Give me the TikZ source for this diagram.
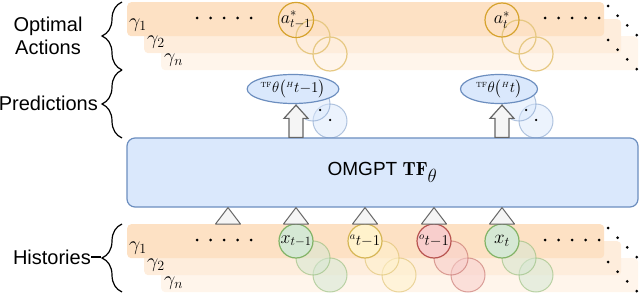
\RequirePackage{fix-cm}
\documentclass[tikz,border=0pt]{standalone}
\usepackage{amsmath,amssymb}
\usepackage{fontspec}
\newfontfamily\labelfont{Liberation Sans}
\usepackage{tikz}
\usetikzlibrary{positioning,shapes.geometric,calc,decorations.pathreplacing}
\definecolor{bandA}{HTML}{FDE1C4}
\definecolor{bandB}{HTML}{FEEDDC}
\definecolor{bandC}{HTML}{FFF5EB}
\definecolor{actline}{HTML}{D6A32E}
\definecolor{xfill}{HTML}{D5E8D4}
\definecolor{xline}{HTML}{82B366}
\definecolor{afill}{HTML}{FFF2CC}
\definecolor{aline}{HTML}{D6B656}
\definecolor{ofill}{HTML}{F8CECC}
\definecolor{oline}{HTML}{B85450}
\definecolor{bfill}{HTML}{DAE8FC}
\definecolor{bline}{HTML}{6C8EBF}
\definecolor{trifill}{HTML}{F5F5F5}
\definecolor{triline}{HTML}{666666}

\begin{document}
\begin{tikzpicture}[x=1pt, y=-1pt,
    band/.style={rounded corners=4pt, minimum width=477pt, minimum height=34pt,
                 inner sep=0pt, anchor=north west},
    gam/.style={anchor=base west, inner sep=0pt, font=\fontsize{20}{20}\selectfont},
    dot/.style={circle, fill=black, inner sep=0pt, minimum size=3pt},
    act/.style={circle, draw=actline, line width=1.2pt, minimum size=34pt, inner sep=0pt,
                font=\fontsize{18}{18}\selectfont},
    actshadow/.style={act, draw=actline!60},
    hist/.style={circle, line width=1.2pt, minimum size=34pt, inner sep=0pt},
    histshadow/.style={hist, line width=1pt, fill opacity=0.55, draw opacity=0.5},
    xcol/.style={fill=xfill, draw=xline},
    acol/.style={fill=afill, draw=aline},
    ocol/.style={fill=ofill, draw=oline},
    pred/.style={ellipse, draw=bline, fill=bfill, line width=1.2pt, minimum width=77pt,
                 minimum height=29pt, inner sep=0pt, font=\fontsize{15}{15}\selectfont},
    predshadow/.style={circle, draw=bline, fill=bfill, fill opacity=0.5, draw opacity=0.5,
                 line width=1pt, minimum size=34pt, inner sep=0pt},
    mainbox/.style={draw=bline, fill=bfill, line width=1.2pt, rounded corners=8pt,
                 minimum width=511pt, minimum height=69pt,
                 font=\labelfont\fontsize{19}{19}\selectfont},
    tri/.style={draw=triline, fill=trifill, line width=1pt, line join=round},
    blockarr/.style={draw=triline, fill=trifill, line width=1.2pt},
    brc/.style={decorate, decoration={brace, amplitude=20pt}, line width=1.2pt},
    side/.style={font=\labelfont\fontsize{20}{23}\selectfont, align=center, inner sep=0pt},
]
\useasboundingbox (0,0) rectangle (640,294);

% optimal actions layers
\foreach \k/\col in {2/bandC, 1/bandB, 0/bandA}
    \node[band, fill=\col] (opt\k) at ({127+17*\k}, {2+17*\k}) {};
\node[gam] (og1) at (129,28) {$\gamma_1$};
\node[gam] (og2) at (147,45) {$\gamma_2$};
\node[gam] (ogn) at (164,63) {$\gamma_n$};
\foreach \i in {0,...,4} {
    \node[dot] (odl\i) at (197+13.5*\i, 18) {};
    \node[dot] (odr\i) at (545+13.5*\i, 18) {};
}
\foreach \i in {0,...,3} {
    \node[dot] (odd\i) at (608+9.6*\i, 6+9.7*\i) {};
    \node[dot] (ode\i) at (608+9.6*\i, 40+9.7*\i) {};
}
\foreach \nm/\cx/\lab in {as1/296/{a^*_{t-1}}, as2/502/{a^*_t}} {
    \node[actshadow] (\nm-c) at (\cx+34, 54) {};
    \node[actshadow] (\nm-b) at (\cx+17, 37) {};
    \node[act] (\nm) at (\cx, 20) {$\lab$};
}

% predictions
\foreach \nm/\cx/\lab in {pr1/296/{t{-}1}, pr2/502/{t}} {
    \node[predshadow] (\nm-c) at (\cx+34, 121) {};
    \node[predshadow] (\nm-b) at (\cx+17, 104) {};
    \node[dot, minimum size=2.5pt] (\nm-d1) at (\cx+24, 110) {};
    \node[dot, minimum size=2.5pt] (\nm-d2) at (\cx+34, 120) {};
    \node[pred] (\nm) at (\cx-3, 89)
        {${}^{\scriptscriptstyle\mathrm{TF}}\theta\bigl({}^{\scriptscriptstyle H}\lab\bigr)$};
}

% transformer
\node[mainbox] (main) at (382.5, 172.5) {OMGPT $\mathbf{TF}_{\textstyle\theta}$};

\foreach \nm in {pr1, pr2} {
    \coordinate (\nm-base) at ($(main.north -| \nm)+(3,0)$);
    \draw[blockarr] ($(\nm-base)+(-7,0)$) -- ++(0,-19) -- ++(-5,0)
        -- ($(\nm-base |- \nm.south)+(0,1)$) -- ($(\nm-base)+(12,-19)$)
        -- ++(-5,0) -- ++(0,19) -- cycle;
}

% histories layers
\foreach \k/\col in {2/bandC, 1/bandB, 0/bandA}
    \node[band, fill=\col] (his\k) at ({127+17*\k}, {224+17*\k}) {};
\node[gam] (hg1) at (129,250) {$\gamma_1$};
\node[gam] (hg2) at (147,267) {$\gamma_2$};
\node[gam] (hgn) at (164,285) {$\gamma_n$};
\foreach \i in {0,...,4} {
    \node[dot] (hdl\i) at (197+13.5*\i, 240) {};
    \node[dot] (hdr\i) at (545+13.5*\i, 240) {};
}
\foreach \i in {0,...,3} {
    \node[dot] (hdd\i) at (608+9.6*\i, 228+9.7*\i) {};
    \node[dot] (hde\i) at (608+9.6*\i, 262+9.7*\i) {};
}
\foreach \nm/\cx/\cs/\fs/\lab in {xp/296/xcol/18/{x_{t-1}}, ap/365/acol/15/{{}^{a}t{-}1},
        op/434/ocol/15/{{}^{o}t{-}1}, xc/502/xcol/19/{x_t}} {
    \node[histshadow, \cs] (\nm-c) at (\cx+34, 275) {};
    \node[histshadow, \cs] (\nm-b) at (\cx+17, 258) {};
    \node[hist, \cs, font=\fontsize{\fs}{\fs}\selectfont] (\nm) at (\cx, 241) {$\lab$};
}

% inputs into the transformer
\coordinate (hin) at (228, 241);
\foreach \src in {hin, xp, ap, op, xc}
    \draw[tri] ($(\src)+(-12.5,-17)$) -- (\src |- main.south) -- ($(\src)+(12.5,-17)$) -- cycle;

% side labels
\draw[brc] (122,70) -- (122,2);
\draw[brc] (122,138) -- (122,70);
\draw[brc] (122,292) -- (122,224);
\node[side] (lopt) at (48,36) {Optimal\\Actions};
\node[side, anchor=east] (lpred) at (98,103) {Predictions};
\node[side, anchor=east] (lhist) at (91,257) {Histories};
\draw[line width=1.2pt] (lhist.east) -- ++(10,0);
\end{tikzpicture}
\end{document}
